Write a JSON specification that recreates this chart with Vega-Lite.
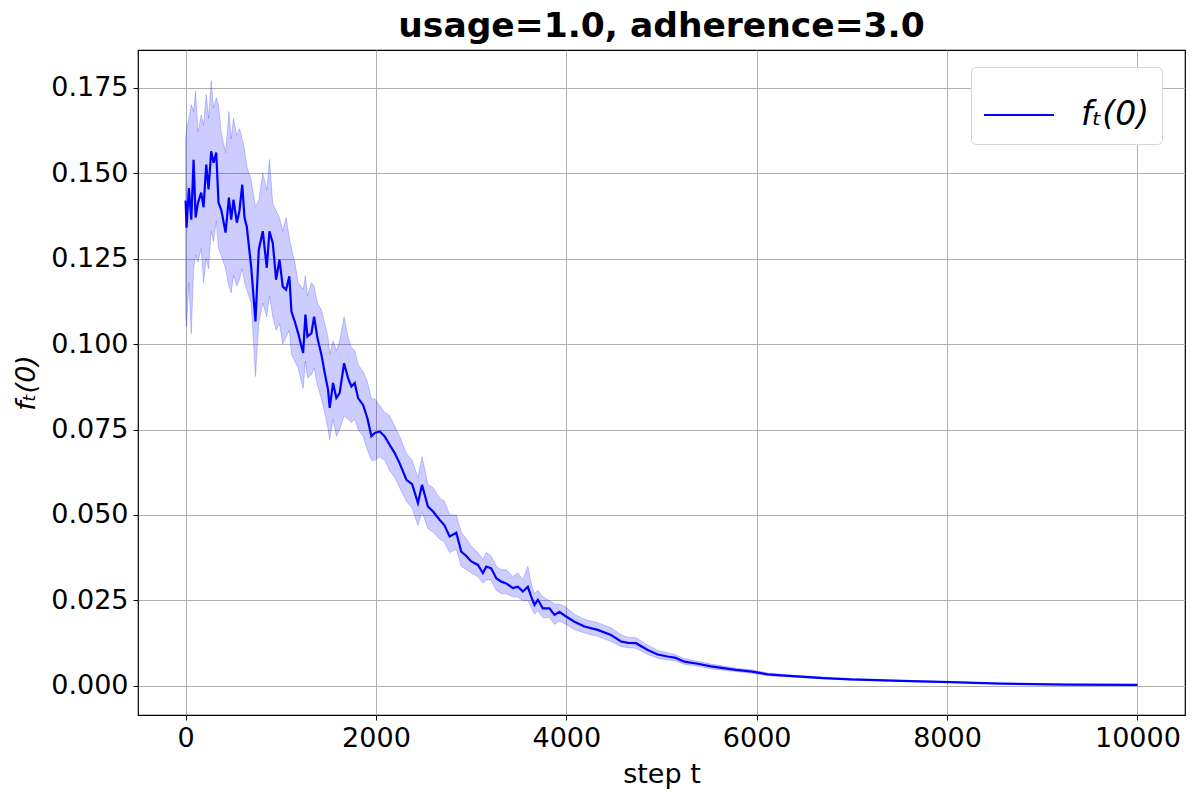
{
  "$schema": "https://vega.github.io/schema/vega-lite/v6.json",
  "autosize": "none",
  "width": 1047,
  "height": 665,
  "padding": {"left": 138, "top": 50, "right": 15, "bottom": 85},
  "background": "white",
  "config": {
    "font": "DejaVu Sans",
    "view": {"stroke": "black", "strokeWidth": 1.2},
    "axis": {
      "labelFont": "DejaVu Sans",
      "titleFont": "DejaVu Sans",
      "labelFontSize": 27,
      "titleFontSize": 27,
      "titleFontWeight": "normal",
      "labelColor": "black",
      "titleColor": "black",
      "tickColor": "black",
      "tickSize": 5,
      "labelPadding": 5,
      "gridColor": "#b0b0b0",
      "gridWidth": 1,
      "domain": false
    }
  },
  "title": {
    "text": "usage=1.0, adherence=3.0",
    "font": "DejaVu Sans",
    "fontSize": 34.5,
    "fontWeight": "bold",
    "color": "black",
    "anchor": "middle",
    "offset": 6
  },
  "data": {
    "values": [
      {"t": 0, "m": 0.142, "lo": 0.108, "hi": 0.160},
      {"t": 10, "m": 0.134, "lo": 0.105, "hi": 0.163},
      {"t": 35, "m": 0.1456, "lo": 0.118, "hi": 0.166},
      {"t": 60, "m": 0.1364, "lo": 0.103, "hi": 0.170},
      {"t": 84, "m": 0.1539, "lo": 0.122, "hi": 0.168},
      {"t": 105, "m": 0.137, "lo": 0.126, "hi": 0.174},
      {"t": 130, "m": 0.1413, "lo": 0.124, "hi": 0.162},
      {"t": 164, "m": 0.1443, "lo": 0.128, "hi": 0.167},
      {"t": 189, "m": 0.140, "lo": 0.118, "hi": 0.164},
      {"t": 217, "m": 0.1525, "lo": 0.125, "hi": 0.173},
      {"t": 241, "m": 0.1452, "lo": 0.122, "hi": 0.166},
      {"t": 269, "m": 0.1564, "lo": 0.133, "hi": 0.177},
      {"t": 294, "m": 0.153, "lo": 0.130, "hi": 0.169},
      {"t": 322, "m": 0.156, "lo": 0.136, "hi": 0.172},
      {"t": 346, "m": 0.1413, "lo": 0.128, "hi": 0.170},
      {"t": 374, "m": 0.1393, "lo": 0.126, "hi": 0.162},
      {"t": 420, "m": 0.1326, "lo": 0.122, "hi": 0.156},
      {"t": 455, "m": 0.1428, "lo": 0.117, "hi": 0.168},
      {"t": 479, "m": 0.1364, "lo": 0.115, "hi": 0.160},
      {"t": 503, "m": 0.1422, "lo": 0.120, "hi": 0.166},
      {"t": 539, "m": 0.1355, "lo": 0.117, "hi": 0.161},
      {"t": 566, "m": 0.139, "lo": 0.119, "hi": 0.163},
      {"t": 595, "m": 0.1466, "lo": 0.122, "hi": 0.160},
      {"t": 619, "m": 0.137, "lo": 0.118, "hi": 0.157},
      {"t": 643, "m": 0.1343, "lo": 0.116, "hi": 0.152},
      {"t": 689, "m": 0.1226, "lo": 0.112, "hi": 0.148},
      {"t": 734, "m": 0.1066, "lo": 0.0905, "hi": 0.140},
      {"t": 769, "m": 0.1276, "lo": 0.106, "hi": 0.142},
      {"t": 811, "m": 0.133, "lo": 0.112, "hi": 0.150},
      {"t": 853, "m": 0.1223, "lo": 0.108, "hi": 0.145},
      {"t": 881, "m": 0.133, "lo": 0.114, "hi": 0.154},
      {"t": 916, "m": 0.1296, "lo": 0.108, "hi": 0.141},
      {"t": 951, "m": 0.1188, "lo": 0.104, "hi": 0.139},
      {"t": 986, "m": 0.1247, "lo": 0.106, "hi": 0.137},
      {"t": 1021, "m": 0.1168, "lo": 0.100, "hi": 0.133},
      {"t": 1056, "m": 0.1159, "lo": 0.102, "hi": 0.137},
      {"t": 1090, "m": 0.1198, "lo": 0.104, "hi": 0.131},
      {"t": 1112, "m": 0.1095, "lo": 0.097, "hi": 0.128},
      {"t": 1147, "m": 0.1066, "lo": 0.095, "hi": 0.124},
      {"t": 1182, "m": 0.1032, "lo": 0.093, "hi": 0.118},
      {"t": 1235, "m": 0.0974, "lo": 0.087, "hi": 0.116},
      {"t": 1259, "m": 0.1086, "lo": 0.095, "hi": 0.120},
      {"t": 1280, "m": 0.1022, "lo": 0.090, "hi": 0.114},
      {"t": 1322, "m": 0.1032, "lo": 0.091, "hi": 0.118},
      {"t": 1350, "m": 0.108, "lo": 0.093, "hi": 0.117},
      {"t": 1385, "m": 0.1018, "lo": 0.088, "hi": 0.112},
      {"t": 1427, "m": 0.0969, "lo": 0.084, "hi": 0.110},
      {"t": 1462, "m": 0.0915, "lo": 0.080, "hi": 0.106},
      {"t": 1497, "m": 0.0866, "lo": 0.075, "hi": 0.102},
      {"t": 1514, "m": 0.0813, "lo": 0.072, "hi": 0.097},
      {"t": 1549, "m": 0.0886, "lo": 0.078, "hi": 0.101},
      {"t": 1584, "m": 0.0842, "lo": 0.073, "hi": 0.098},
      {"t": 1619, "m": 0.0857, "lo": 0.075, "hi": 0.101},
      {"t": 1665, "m": 0.0944, "lo": 0.079, "hi": 0.108},
      {"t": 1707, "m": 0.090, "lo": 0.078, "hi": 0.102},
      {"t": 1742, "m": 0.0876, "lo": 0.077, "hi": 0.099},
      {"t": 1777, "m": 0.0886, "lo": 0.078, "hi": 0.098},
      {"t": 1812, "m": 0.0842, "lo": 0.075, "hi": 0.094},
      {"t": 1865, "m": 0.0822, "lo": 0.073, "hi": 0.092},
      {"t": 1910, "m": 0.0783, "lo": 0.069, "hi": 0.089},
      {"t": 1952, "m": 0.073, "lo": 0.066, "hi": 0.084},
      {"t": 1987, "m": 0.074, "lo": 0.066, "hi": 0.084},
      {"t": 2040, "m": 0.0744, "lo": 0.067, "hi": 0.082},
      {"t": 2092, "m": 0.073, "lo": 0.066, "hi": 0.080},
      {"t": 2144, "m": 0.0705, "lo": 0.063, "hi": 0.079},
      {"t": 2197, "m": 0.0681, "lo": 0.061, "hi": 0.076},
      {"t": 2249, "m": 0.0651, "lo": 0.058, "hi": 0.073},
      {"t": 2320, "m": 0.0603, "lo": 0.054, "hi": 0.068},
      {"t": 2380, "m": 0.059, "lo": 0.052, "hi": 0.066},
      {"t": 2441, "m": 0.0535, "lo": 0.047, "hi": 0.061},
      {"t": 2484, "m": 0.0588, "lo": 0.051, "hi": 0.067},
      {"t": 2546, "m": 0.0525, "lo": 0.046, "hi": 0.059},
      {"t": 2600, "m": 0.051, "lo": 0.045, "hi": 0.058},
      {"t": 2668, "m": 0.0486, "lo": 0.043, "hi": 0.055},
      {"t": 2720, "m": 0.047, "lo": 0.042, "hi": 0.054},
      {"t": 2774, "m": 0.0437, "lo": 0.039, "hi": 0.050},
      {"t": 2844, "m": 0.0448, "lo": 0.040, "hi": 0.050},
      {"t": 2896, "m": 0.0393, "lo": 0.035, "hi": 0.045},
      {"t": 2950, "m": 0.038, "lo": 0.034, "hi": 0.043},
      {"t": 3001, "m": 0.0364, "lo": 0.033, "hi": 0.041},
      {"t": 3071, "m": 0.0354, "lo": 0.032, "hi": 0.039},
      {"t": 3124, "m": 0.033, "lo": 0.030, "hi": 0.037},
      {"t": 3159, "m": 0.0349, "lo": 0.031, "hi": 0.039},
      {"t": 3211, "m": 0.0344, "lo": 0.031, "hi": 0.038},
      {"t": 3264, "m": 0.0315, "lo": 0.028, "hi": 0.035},
      {"t": 3316, "m": 0.0305, "lo": 0.027, "hi": 0.034},
      {"t": 3368, "m": 0.030, "lo": 0.027, "hi": 0.034},
      {"t": 3439, "m": 0.0286, "lo": 0.026, "hi": 0.032},
      {"t": 3491, "m": 0.029, "lo": 0.026, "hi": 0.033},
      {"t": 3543, "m": 0.0276, "lo": 0.025, "hi": 0.031},
      {"t": 3596, "m": 0.029, "lo": 0.025, "hi": 0.035},
      {"t": 3631, "m": 0.0261, "lo": 0.023, "hi": 0.030},
      {"t": 3666, "m": 0.0237, "lo": 0.021, "hi": 0.027},
      {"t": 3701, "m": 0.0252, "lo": 0.022, "hi": 0.028},
      {"t": 3753, "m": 0.0227, "lo": 0.020, "hi": 0.026},
      {"t": 3823, "m": 0.0227, "lo": 0.020, "hi": 0.025},
      {"t": 3875, "m": 0.0208, "lo": 0.018, "hi": 0.024},
      {"t": 3928, "m": 0.0217, "lo": 0.019, "hi": 0.024},
      {"t": 3998, "m": 0.0203, "lo": 0.018, "hi": 0.023},
      {"t": 4085, "m": 0.0188, "lo": 0.0165, "hi": 0.021},
      {"t": 4190, "m": 0.0174, "lo": 0.0155, "hi": 0.0195},
      {"t": 4330, "m": 0.0164, "lo": 0.0145, "hi": 0.0185},
      {"t": 4470, "m": 0.0149, "lo": 0.013, "hi": 0.017},
      {"t": 4575, "m": 0.013, "lo": 0.0115, "hi": 0.015},
      {"t": 4650, "m": 0.0126, "lo": 0.0112, "hi": 0.0142},
      {"t": 4732, "m": 0.0125, "lo": 0.011, "hi": 0.0141},
      {"t": 4855, "m": 0.0105, "lo": 0.0092, "hi": 0.012},
      {"t": 4960, "m": 0.0092, "lo": 0.0081, "hi": 0.0104},
      {"t": 5065, "m": 0.0086, "lo": 0.0076, "hi": 0.0097},
      {"t": 5150, "m": 0.0082, "lo": 0.0073, "hi": 0.0091},
      {"t": 5240, "m": 0.0071, "lo": 0.0063, "hi": 0.0080},
      {"t": 5380, "m": 0.0065, "lo": 0.0058, "hi": 0.0072},
      {"t": 5520, "m": 0.0057, "lo": 0.0050, "hi": 0.0064},
      {"t": 5650, "m": 0.0052, "lo": 0.0046, "hi": 0.0058},
      {"t": 5782, "m": 0.0047, "lo": 0.0042, "hi": 0.0052},
      {"t": 5950, "m": 0.0042, "lo": 0.0037, "hi": 0.0047},
      {"t": 6115, "m": 0.0034, "lo": 0.0030, "hi": 0.0038},
      {"t": 6300, "m": 0.0030, "lo": 0.0027, "hi": 0.0033},
      {"t": 6464, "m": 0.0027, "lo": 0.0024, "hi": 0.0030},
      {"t": 6700, "m": 0.0023, "lo": 0.0021, "hi": 0.0026},
      {"t": 6989, "m": 0.0019, "lo": 0.0017, "hi": 0.0021},
      {"t": 7513, "m": 0.0015, "lo": 0.0013, "hi": 0.0017},
      {"t": 8038, "m": 0.0011, "lo": 0.0010, "hi": 0.0012},
      {"t": 8562, "m": 0.0007, "lo": 0.0006, "hi": 0.0008},
      {"t": 9262, "m": 0.0004, "lo": 0.0003, "hi": 0.0005},
      {"t": 10000, "m": 0.0003, "lo": 0.0002, "hi": 0.0004}
    ]
  },
  "layer": [
    {
      "mark": {"type": "area", "color": "blue", "fillOpacity": 0.2, "stroke": "blue", "strokeOpacity": 0.2, "strokeWidth": 1},
      "encoding": {
        "x": {
          "field": "t", "type": "quantitative",
          "scale": {"domain": [-500, 10500], "nice": false, "zero": false},
          "axis": {"values": [0, 2000, 4000, 6000, 8000, 10000], "format": "d", "title": "step t", "titlePadding": 10}
        },
        "y": {
          "field": "lo", "type": "quantitative",
          "scale": {"domain": [-0.0085, 0.186], "nice": false, "zero": false},
          "axis": {"values": [0, 0.025, 0.05, 0.075, 0.1, 0.125, 0.15, 0.175], "format": ".3f", "title": "fₜ(0)", "titleFontStyle": "italic", "titlePadding": 10}
        },
        "y2": {"field": "hi"}
      }
    },
    {
      "mark": {"type": "line", "strokeWidth": 2.2},
      "encoding": {
        "x": {"field": "t", "type": "quantitative"},
        "y": {"field": "m", "type": "quantitative"},
        "color": {
          "datum": "fₜ(0)",
          "type": "nominal",
          "scale": {"range": ["blue"]},
          "legend": {
            "title": null,
            "orient": "none",
            "legendX": 833,
            "legendY": 17,
            "symbolType": "stroke",
            "symbolSize": 4900,
            "symbolStrokeWidth": 2,
            "labelFontSize": 33,
            "labelFont": "DejaVu Sans",
            "labelFontStyle": "italic",
            "labelColor": "black",
            "labelOffset": 26,
            "strokeColor": "#d5d5d5",
            "fillColor": "white",
            "cornerRadius": 5,
            "padding": 12
          }
        }
      }
    }
  ]
}
